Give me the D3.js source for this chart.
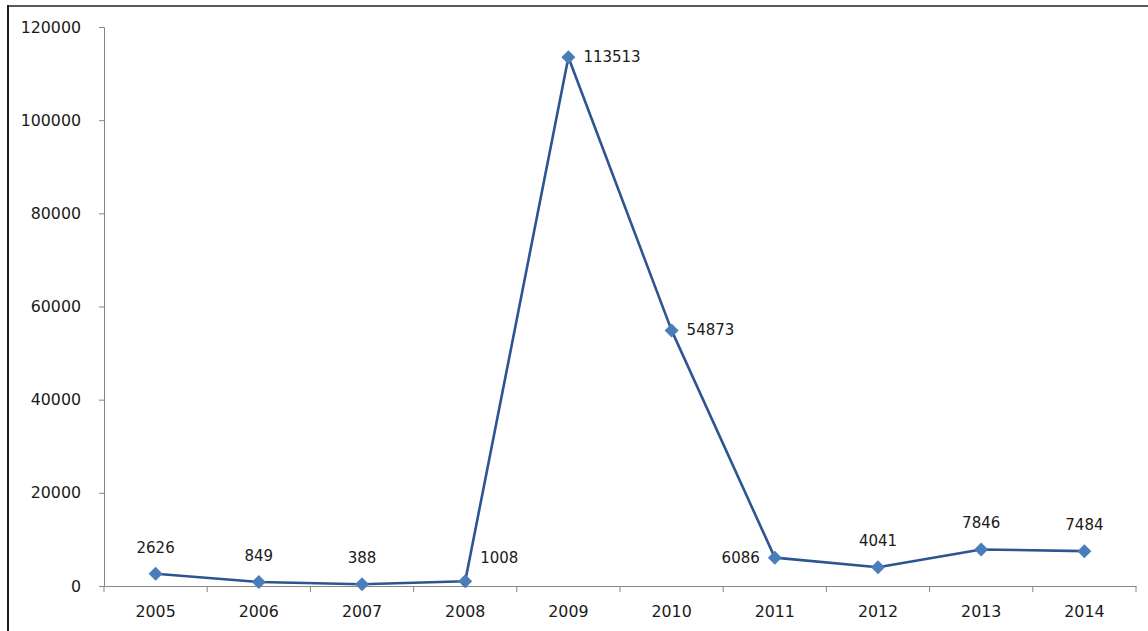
<!DOCTYPE html>
<html><head><meta charset="utf-8">
<script src="https://cdn.jsdelivr.net/npm/d3@7"></script>
<style>html,body{margin:0;padding:0;background:#fff;}svg{display:block;}</style>
</head><body>
<script>
const years = ["2005","2006","2007","2008","2009","2010","2011","2012","2013","2014"];
const values = [2626, 849, 388, 1008, 113513, 54873, 6086, 4041, 7846, 7484];
const yTicks = [0, 20000, 40000, 60000, 80000, 100000, 120000];
// label placement per point: "top", "right", "left", "topright"
const labelPos = ["top","top","top","topright","right","right","left","top","top","top"];

(function(){
const W = 1148, H = 631;
const svg = d3.select("body").append("svg").attr("width", W).attr("height", H);

// outer frame (top and left edges visible)
svg.append("line").attr("x1", 8).attr("x2", W).attr("y1", 6).attr("y2", 6)
  .attr("stroke", "#595959").attr("stroke-width", 2);
svg.append("line").attr("x1", 8).attr("x2", 8).attr("y1", 5).attr("y2", H)
  .attr("stroke", "#1a1a1a").attr("stroke-width", 2);

const mLeft = 104, mRight = 1136, mTop = 27, mBottom = 586;
const x = d3.scaleBand().domain(years).range([mLeft, mRight]);
const y = d3.scaleLinear().domain([0, 120000]).range([mBottom, mTop]);

const font = "'DejaVu Sans', Verdana, sans-serif";

// Y axis
const yAxis = svg.append("g").attr("transform", `translate(${mLeft},0)`)
  .call(d3.axisLeft(y).tickValues(yTicks).tickSize(5).tickPadding(18).tickFormat(d3.format("d")));
yAxis.select(".domain").attr("stroke", "#868686");
yAxis.selectAll(".tick line").attr("stroke", "#868686");
yAxis.selectAll("text").attr("font-family", font).attr("font-size", 15.8).attr("fill", "#1a1a1a");

// X axis
const xAxis = svg.append("g").attr("transform", `translate(0,${mBottom})`)
  .call(d3.axisBottom(x).tickSize(0).tickPadding(20));
xAxis.select(".domain").attr("stroke", "#868686");
xAxis.selectAll("text").attr("font-family", font).attr("font-size", 15.8).attr("fill", "#1a1a1a");
// category boundary ticks
const bounds = years.map(d => x(d)).concat([x(years[years.length-1]) + x.bandwidth()]);
xAxis.selectAll(".bt").data(bounds).enter().append("line")
  .attr("x1", d => d).attr("x2", d => d).attr("y1", 0).attr("y2", 6)
  .attr("stroke", "#868686");

const cx = d => x(d) + x.bandwidth() / 2;
const data = years.map((d, i) => ({year: d, v: values[i], pos: labelPos[i]}));

// line
svg.append("path").datum(data)
  .attr("d", d3.line().x(d => cx(d.year)).y(d => y(d.v)))
  .attr("fill", "none").attr("stroke", "#2c5591").attr("stroke-width", 2.6)
  .attr("stroke-linejoin", "round");

// markers
svg.selectAll(".m").data(data).enter().append("path")
  .attr("transform", d => `translate(${cx(d.year)},${y(d.v)})`)
  .attr("d", "M0,-7L7,0L0,7L-7,0Z")
  .attr("fill", "#4a7ebb");

// labels
const lx = d => d.pos === "top" ? cx(d.year) : d.pos === "left" ? cx(d.year) - 15 : cx(d.year) + 15;
const ly = d => d.pos === "top" ? y(d.v) - 21 : d.pos === "topright" ? y(d.v) - 18 : y(d.v) + 5;
svg.selectAll(".lbl").data(data).enter().append("text")
  .attr("font-family", font).attr("font-size", 15).attr("fill", "#1a1a1a")
  .attr("x", lx).attr("y", ly)
  .attr("text-anchor", d => d.pos === "top" ? "middle" : d.pos === "left" ? "end" : "start")
  .text(d => d.v);
})();
</script>
</body></html>
